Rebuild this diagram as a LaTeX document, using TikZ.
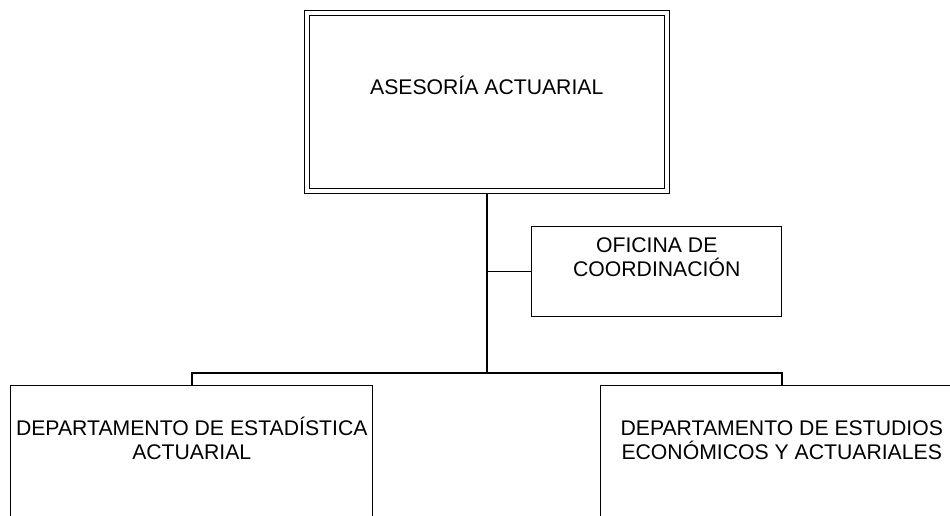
\documentclass[tikz,border=0pt]{standalone}
\usepackage{fontspec}
\setmainfont{Liberation Sans}
\usetikzlibrary{positioning}

\begin{document}
\begin{tikzpicture}[x=1pt, y=-1pt,
              unitBox/.style={
                draw, line width=1pt, inner sep=0pt, outer sep=0pt
             },
              headBox/.style={
                unitBox, double, double distance=4pt, outer sep=2.5pt
             },
              boxText/.style={align=center, font=\fontsize{21.2}{24}\selectfont},
              link/.style={line width=1.5pt} ]
              \useasboundingbox (0,0) rectangle (950,516);
              \node[headBox, minimum width=360.5pt, minimum height=177pt,
                    label={[boxText, yshift=16.5pt]center:ASESORÍA ACTUARIAL}](head) at (486.75,102){};
              \node[unitBox, minimum width=250pt, minimum height=90pt,
                    below right=33.5pt and 45pt of head.south,
                    label={[boxText, yshift=14pt]center:{OFICINA DE\\COORDINACIÓN}}](office){};
              \coordinate[below=180pt of head.south](bar);
              \node[unitBox, minimum width=362pt, minimum height=160pt,
                    below=12pt of bar, xshift=-295pt,
                    label={[boxText, yshift=27pt]center:{DEPARTAMENTO DE ESTADÍSTICA\\ACTUARIAL}}](stat){};
              \node[unitBox, minimum width=362pt, minimum height=160pt,
                    below=12pt of bar, xshift=295pt,
                    label={[boxText, yshift=25pt]center:{DEPARTAMENTO DE ESTUDIOS\\ECONÓMICOS Y ACTUARIALES}}](econ){};
              \draw[link] (head.south) -- (bar);
              \draw[link] (office.west) -- (head.south |- office.west);
              \draw[link] (stat.north) |- (bar) -| (econ.north);
            \end{tikzpicture}
\end{document}
